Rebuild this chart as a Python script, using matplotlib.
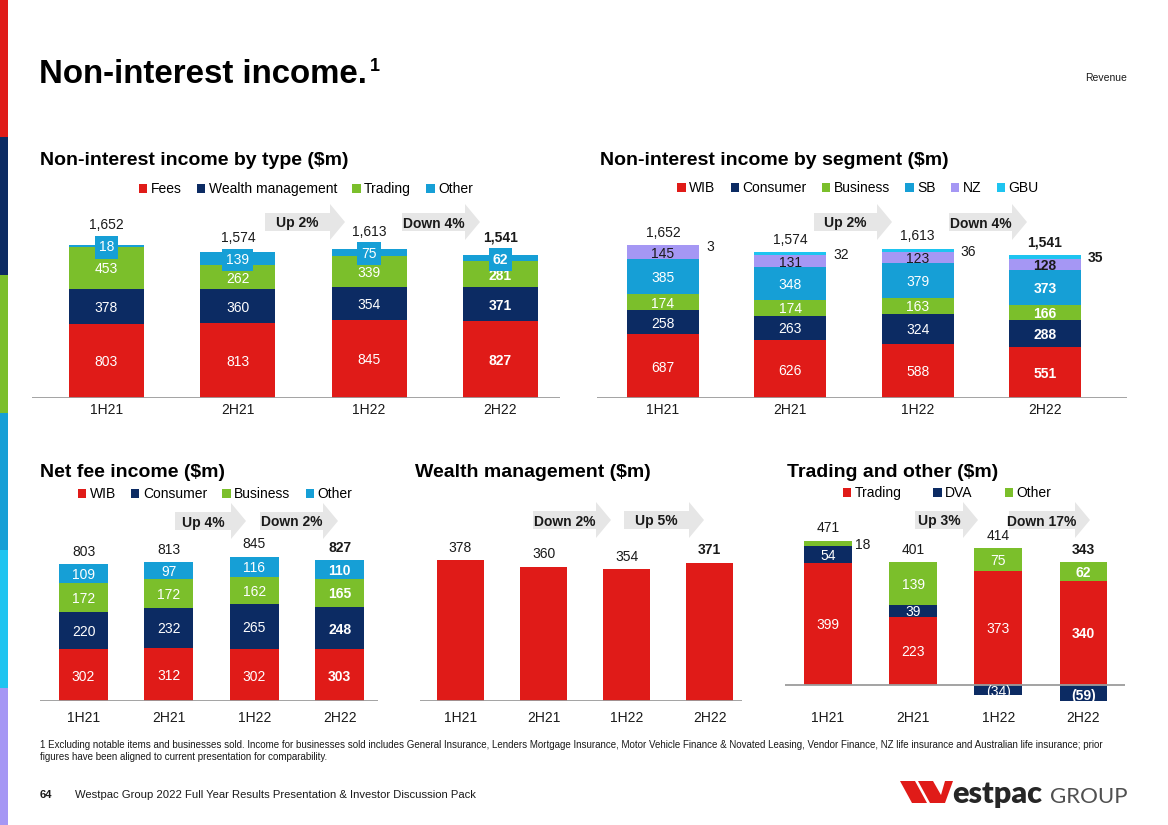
import matplotlib.pyplot as plt
from matplotlib.patches import Patch, Polygon, Rectangle

# slide size in pixels
W, H = 1168, 825

RED = '#E01B18'
NAVY = '#0C2B63'
GREEN = '#7BBF2B'
BLUE = '#169FD6'
CYAN = '#1EC4F0'
LILAC = '#A597F4'
ARROW = '#E6E6E6'
INK = '#1A1A1A'
AXIS = '#9C9C9C'

periods = ['1H21', '2H21', '1H22', '2H22']

# Non-interest income by type
type_names = ['Fees', 'Wealth management', 'Trading', 'Other']
type_fees = [803, 813, 845, 827]
type_wealth = [378, 360, 354, 371]
type_trading = [453, 262, 339, 281]
type_other = [18, 139, 75, 62]
type_total = [1652, 1574, 1613, 1541]
type_moves = ['Up 2%', 'Down 4%']

# Non-interest income by segment
seg_names = ['WIB', 'Consumer', 'Business', 'SB', 'NZ', 'GBU']
seg_wib = [687, 626, 588, 551]
seg_consumer = [258, 263, 324, 288]
seg_business = [174, 174, 163, 166]
seg_sb = [385, 348, 379, 373]
seg_nz = [145, 131, 123, 128]
seg_gbu = [3, 32, 36, 35]
seg_total = [1652, 1574, 1613, 1541]
seg_moves = ['Up 2%', 'Down 4%']

# Net fee income
fee_names = ['WIB', 'Consumer', 'Business', 'Other']
fee_wib = [302, 312, 302, 303]
fee_consumer = [220, 232, 265, 248]
fee_business = [172, 172, 162, 165]
fee_other = [109, 97, 116, 110]
fee_total = [803, 813, 845, 827]
fee_moves = ['Up 4%', 'Down 2%']

# Wealth management
wealth = [378, 360, 354, 371]
wealth_moves = ['Down 2%', 'Up 5%']

# Trading and other
trd_names = ['Trading', 'DVA', 'Other']
trd_trading = [399, 223, 373, 340]
trd_dva = [54, 39, -34, -59]
trd_other = [18, 139, 75, 62]
trd_total = [471, 401, 414, 343]
trd_moves = ['Up 3%', 'Down 17%']

plt.rcParams['font.family'] = ['Liberation Sans', 'DejaVu Sans']
fig = plt.figure(figsize=(W / 100, H / 100), dpi=100)


def fx(x):
    return x / W


def fy(y):
    return 1 - y / H


def px_axes(left, right, top, bottom):
    return fig.add_axes([fx(left), fy(bottom), (right - left) / W, (bottom - top) / H])


def fmt(v):
    return f'({abs(v):,})' if v < 0 else f'{v:,}'


def setup(ax, xlim, ylim, pad):
    ax.set_xlim(*xlim)
    ax.set_ylim(*ylim)
    for s in ax.spines.values():
        s.set_visible(False)
    ax.set_yticks([])
    ax.set_xticks(range(len(periods)))
    ax.set_xticklabels(periods)
    ax.tick_params(axis='x', length=0, pad=pad, labelsize=10, labelcolor=INK)
    ax.axhline(0, color=AXIS, lw=1.3, zorder=5)
    ax.patch.set_alpha(0)


def stacked(ax, layers, colors, modes, width, side_pad=4):
    n = len(periods)
    pos = [0] * n
    neg = [0] * n
    for vals, color, mode in zip(layers, colors, modes):
        bottoms = []
        for i, v in enumerate(vals):
            if v >= 0:
                bottoms.append(pos[i])
                pos[i] += v
            else:
                bottoms.append(neg[i])
                neg[i] += v
        ax.bar(range(n), vals, width, bottom=bottoms, color=color, linewidth=0, zorder=2)
        for i, (v, b) in enumerate(zip(vals, bottoms)):
            wt = 'bold' if i == n - 1 else 'normal'
            yc = b + v / 2
            m = mode(v) if callable(mode) else mode
            if m == 'out':
                ax.annotate(fmt(v), (i + width / 2, yc), xytext=(side_pad, 0),
                            textcoords='offset points', ha='left', va='center_baseline',
                            fontsize=10, color=INK, fontweight=wt)
            elif m == 'box':
                ax.text(i, yc, fmt(v), ha='center', va='center_baseline', fontsize=10,
                        color='white', fontweight=wt, zorder=6,
                        bbox=dict(boxstyle='square,pad=0.3', facecolor=color, edgecolor='none'))
            else:
                ax.text(i, yc, fmt(v), ha='center', va='center_baseline', fontsize=10,
                        color=INK if m == 'dark' else 'white', fontweight=wt, zorder=6)
    return pos


def totals(ax, anchors, values, offset):
    for i, (a, v) in enumerate(zip(anchors, values)):
        ax.annotate(fmt(v), (i, a), xytext=(0, offset), textcoords='offset points',
                    ha='center', va='center_baseline', fontsize=10, color=INK,
                    fontweight='bold' if i == len(values) - 1 else 'normal')


def move_arrow(x0, x1, yc, text):
    head, body, head_h = 15, 9, 18
    xb = x1 - head
    pts = [(x0, yc - body), (xb, yc - body), (xb, yc - head_h), (x1, yc),
           (xb, yc + head_h), (xb, yc + body), (x0, yc + body)]
    fig.add_artist(Polygon([(fx(x), fy(y)) for x, y in pts], closed=True,
                           transform=fig.transFigure, facecolor=ARROW, edgecolor='none'))
    fig.text(fx((x0 + xb) / 2), fy(yc), text, ha='center', va='center_baseline',
             fontsize=10, fontweight='bold', color=INK)


def legend(names, colors, xc, yc, spacing=1.1):
    handles = [Patch(facecolor=c, edgecolor='none', label=n) for n, c in zip(names, colors)]
    fig.legend(handles=handles, loc='center', bbox_to_anchor=(fx(xc), fy(yc)),
               ncol=len(names), frameon=False, fontsize=10, handlelength=0.6,
               handleheight=0.6, handletextpad=0.25, columnspacing=spacing,
               borderaxespad=0, borderpad=0)


# left colour stripe
stripe = [RED, NAVY, GREEN, BLUE, CYAN, LILAC]
for k, c in enumerate(stripe):
    fig.add_artist(Rectangle((0, 1 - (k + 1) / len(stripe)), fx(8), 1 / len(stripe),
                             transform=fig.transFigure, facecolor=c, edgecolor='none'))

# headings
fig.text(fx(39), fy(83), 'Non-interest income.', fontsize=23.8, fontweight='bold', color='black')
fig.text(fx(370), fy(58), '1', fontsize=13, fontweight='bold', color='black', va='top')
fig.text(fx(1127), fy(81), 'Revenue', fontsize=7.5, ha='right', color=INK)

sub = dict(fontsize=14, fontweight='bold', color='black')
fig.text(fx(40), fy(165), 'Non-interest income by type ($m)', **sub)
fig.text(fx(600), fy(165), 'Non-interest income by segment ($m)', **sub)
fig.text(fx(40), fy(477), 'Net fee income ($m)', **sub)
fig.text(fx(415), fy(477), 'Wealth management ($m)', **sub)
fig.text(fx(787), fy(477), 'Trading and other ($m)', **sub)

# chart 1: by type
ax1 = px_axes(32, 560, 200, 398)
setup(ax1, (-0.567, 3.453), (0, 2138), 3.6)
stacked(ax1, [type_fees, type_wealth, type_trading, type_other],
        [RED, NAVY, GREEN, BLUE], ['in', 'in', 'in', 'box'], 0.571)
totals(ax1, [t - o / 2 for t, o in zip(type_total, type_other)], type_total, 15.8)
legend(type_names, [RED, NAVY, GREEN, BLUE], 306, 189)
move_arrow(265, 345, 222, type_moves[0])
move_arrow(402, 480, 222, type_moves[1])

# chart 2: by segment
ax2 = px_axes(597, 1127, 200, 398)
setup(ax2, (-0.518, 3.644), (0, 2138), 3.6)
tops2 = stacked(ax2, [seg_wib, seg_consumer, seg_business, seg_sb, seg_nz, seg_gbu],
                [RED, NAVY, GREEN, BLUE, LILAC, CYAN],
                ['in', 'in', 'in', 'in', 'dark', 'out'], 0.566, side_pad=5)
totals(ax2, tops2, seg_total, 10)
legend(seg_names, [RED, NAVY, GREEN, BLUE, LILAC, CYAN], 858, 188)
move_arrow(814, 892, 222, seg_moves[0])
move_arrow(949, 1027, 222, seg_moves[1])

# chart 3: net fee income
ax3 = px_axes(40, 378, 500, 701)
setup(ax3, (-0.51, 3.45), (0, 1178), 7.2)
tops3 = stacked(ax3, [fee_wib, fee_consumer, fee_business, fee_other],
                [RED, NAVY, GREEN, BLUE], ['in', 'in', 'in', 'in'], 0.574)
totals(ax3, tops3, fee_total, 10)
legend(fee_names, [RED, NAVY, GREEN, BLUE], 215, 494)
move_arrow(175, 246, 521, fee_moves[0])
move_arrow(260, 338, 521, fee_moves[1])

# chart 4: wealth management
ax4 = px_axes(420, 742, 500, 701)
setup(ax4, (-0.488, 3.39), (0, 539), 7.2)
ax4.bar(range(len(periods)), wealth, 0.566, color=RED, linewidth=0, zorder=2)
totals(ax4, wealth, wealth, 10)
move_arrow(533, 611, 520, wealth_moves[0])
move_arrow(624, 704, 520, wealth_moves[1])

# chart 5: trading and other
ax5 = px_axes(785, 1125, 500, 701)
setup(ax5, (-0.505, 3.487), (-52.3, 604.6), 7.2)
tops5 = stacked(ax5, [trd_trading, trd_dva, trd_other], [RED, NAVY, GREEN],
                ['in', 'in', lambda v: 'out' if v < 30 else 'in'], 0.563, side_pad=2)
totals(ax5, tops5, trd_total, 10)
legend(trd_names, [RED, NAVY, GREEN], 947, 493, spacing=2.3)
move_arrow(915, 978, 520, trd_moves[0])
move_arrow(1009, 1090, 520, trd_moves[1])

# footnote and footer
fig.text(fx(40), fy(745),
         '1 Excluding notable items and businesses sold. Income for businesses sold includes General '
         'Insurance, Lenders Mortgage Insurance, Motor Vehicle Finance & Novated Leasing, Vendor Finance, '
         'NZ life insurance and Australian life insurance; prior',
         fontsize=7.0, va='center', color=INK)
fig.text(fx(40), fy(757), 'figures have been aligned to current presentation for comparability.',
         fontsize=7.0, va='center', color=INK)
fig.text(fx(40), fy(795), '64', fontsize=8.1, fontweight='bold', va='center', color=INK)
fig.text(fx(75), fy(795),
         'Westpac Group 2022 Full Year Results Presentation & Investor Discussion Pack',
         fontsize=8.1, va='center', color=INK)

# logo
logo_w = [
    [(900, 781), (915, 781), (927, 803), (912, 803)],
    [(918, 781), (933, 781), (941, 795), (945, 781), (953, 781), (945, 803), (930, 803)],
]
for shape in logo_w:
    fig.add_artist(Polygon([(fx(x), fy(y)) for x, y in shape], closed=True,
                           transform=fig.transFigure, facecolor=RED, edgecolor='none'))
fig.text(fx(952), fy(803), 'estpac', fontsize=22, family=['Lato', 'DejaVu Sans'],
         fontweight='heavy', color='#262626', va='baseline')
fig.text(fx(1050), fy(803), 'GROUP', fontsize=16, family=['Lato', 'DejaVu Sans'],
         fontweight='normal', color='#505050', va='baseline')

fig.savefig('out.png', dpi=100, facecolor='white')
